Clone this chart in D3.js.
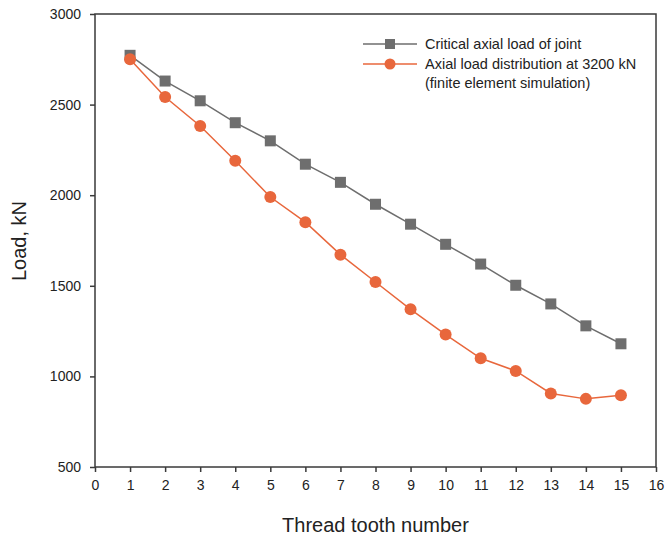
<!DOCTYPE html>
<html>
<head>
<meta charset="utf-8">
<script src="https://cdn.jsdelivr.net/npm/d3@7"></script>
<style>
  html, body { margin: 0; padding: 0; background: #fff; }
  svg { display: block; font-family: "Liberation Sans", Arial, sans-serif; }
</style>
</head>
<body>
<svg id="chart" width="666" height="539"></svg>
<script>
// Thread tooth numbers
const teeth = [1, 2, 3, 4, 5, 6, 7, 8, 9, 10, 11, 12, 13, 14, 15];
// Critical axial load of joint (kN)
const criticalLoad = [2772, 2630, 2521, 2400, 2300, 2171, 2071, 1950, 1840, 1729, 1620, 1503, 1400, 1279, 1180];
// Axial load distribution at 3200 kN, finite element simulation (kN)
const feLoad = [2750, 2542, 2382, 2190, 1990, 1851, 1672, 1521, 1370, 1231, 1100, 1030, 906, 876, 896];
const xTicks = d3.range(0, 17);
const yTicks = [500, 1000, 1500, 2000, 2500, 3000];
const legendLabels = ["Critical axial load of joint", "Axial load distribution at 3200 kN", "(finite element simulation)"];

const svg = d3.select("#chart");
const plotLeft = 95, plotRight = 656, plotTop = 14, plotBottom = 467;
const axisColor = "#3a3a3a";
const grayColor = "#6e6e6e";
const orangeColor = "#e8673c";

const x = d3.scaleLinear().domain([0, 16]).range([plotLeft, plotRight]);
const y = d3.scaleLinear().domain([500, 3000]).range([plotBottom, plotTop]);

// Frame
svg.append("rect")
  .attr("x", plotLeft).attr("y", plotTop)
  .attr("width", plotRight - plotLeft).attr("height", plotBottom - plotTop)
  .attr("fill", "none").attr("stroke", axisColor).attr("stroke-width", 1.5);

// Axes
const xAxis = svg.append("g")
  .attr("transform", `translate(0,${plotBottom})`)
  .call(d3.axisBottom(x).tickValues(xTicks).tickSize(5).tickPadding(8).tickFormat(d3.format("d")));
const yAxis = svg.append("g")
  .attr("transform", `translate(${plotLeft},0)`)
  .call(d3.axisLeft(y).tickValues(yTicks).tickSize(5).tickPadding(9).tickFormat(d3.format("d")));
[xAxis, yAxis].forEach(g => {
  g.select(".domain").remove();
  g.selectAll(".tick line").attr("stroke", axisColor).attr("stroke-width", 1.5);
  g.selectAll(".tick text")
    .attr("fill", "#222")
    .style("font-size", "14px")
    .style("font-family", "'Liberation Sans', Arial, sans-serif");
});

// Axis titles
svg.append("text")
  .attr("x", (plotLeft + plotRight) / 2).attr("y", 532)
  .attr("text-anchor", "middle")
  .attr("fill", "#222").style("font-size", "20px")
  .text("Thread tooth number");
svg.append("text")
  .attr("transform", `translate(26,241) rotate(-90)`)
  .attr("text-anchor", "middle")
  .attr("fill", "#222").style("font-size", "20px")
  .text("Load, kN");

const line = d3.line().x((d, i) => x(teeth[i])).y(d => y(d));

// Critical load series
svg.append("path")
  .datum(criticalLoad)
  .attr("d", line)
  .attr("fill", "none").attr("stroke", grayColor).attr("stroke-width", 1.5);
svg.append("g").selectAll("rect")
  .data(criticalLoad)
  .join("rect")
  .attr("x", (d, i) => x(teeth[i]) - 5.5)
  .attr("y", d => y(d) - 5.5)
  .attr("width", 11).attr("height", 11)
  .attr("fill", grayColor);

// FE simulation series
svg.append("path")
  .datum(feLoad)
  .attr("d", line)
  .attr("fill", "none").attr("stroke", orangeColor).attr("stroke-width", 1.5);
svg.append("g").selectAll("circle")
  .data(feLoad)
  .join("circle")
  .attr("cx", (d, i) => x(teeth[i]))
  .attr("cy", d => y(d))
  .attr("r", 6)
  .attr("fill", orangeColor);

// Legend
const legend = svg.append("g");
const legendRows = [
  { y: 44, color: grayColor, marker: "square", label: legendLabels[0] },
  { y: 64, color: orangeColor, marker: "circle", label: legendLabels[1] }
];
legendRows.forEach(r => {
  legend.append("line")
    .attr("x1", 363).attr("x2", 417).attr("y1", r.y).attr("y2", r.y)
    .attr("stroke", r.color).attr("stroke-width", 1.5);
  if (r.marker === "square") {
    legend.append("rect").attr("x", 390 - 5).attr("y", r.y - 5)
      .attr("width", 10).attr("height", 10).attr("fill", r.color);
  } else {
    legend.append("circle").attr("cx", 390).attr("cy", r.y).attr("r", 5.5).attr("fill", r.color);
  }
  legend.append("text")
    .attr("x", 425).attr("y", r.y).attr("dy", "0.35em")
    .attr("fill", "#222").style("font-size", "14.5px")
    .text(r.label);
});
legend.append("text")
  .attr("x", 425).attr("y", 83).attr("dy", "0.35em")
  .attr("fill", "#222").style("font-size", "14.5px")
  .text(legendLabels[2]);
</script>
</body>
</html>
